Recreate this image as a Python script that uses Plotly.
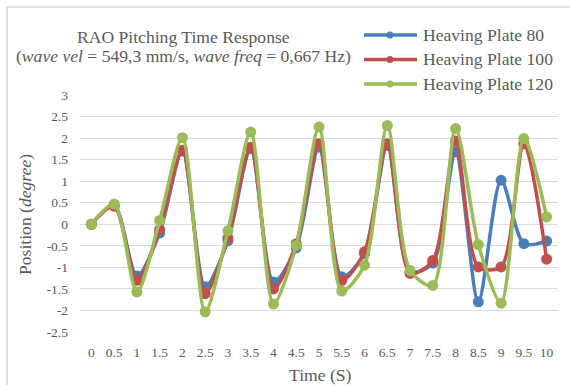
import plotly.graph_objects as go

# Time steps (s) and pitching response (degree) for each heaving plate size
time_labels = ["0", "0.5", "1", "1.5", "2", "2.5", "3", "3.5", "4", "4.5", "5",
               "5.5", "6", "6.5", "7", "7.5", "8", "8.5", "9", "9.5", "10"]
plate_80 = [0.0, 0.45, -1.2, -0.2, 1.70, -1.45, -0.38, 1.75, -1.34, -0.55, 1.79,
            -1.22, -0.68, 1.83, -1.10, -0.90, 1.68, -1.80, 1.02, -0.45, -0.39]
plate_100 = [0.0, 0.42, -1.3, -0.12, 1.72, -1.61, -0.32, 1.79, -1.50, -0.45, 1.87,
             -1.30, -0.64, 1.87, -1.14, -0.84, 1.93, -0.99, -0.99, 1.87, -0.81]
plate_120 = [0.0, 0.47, -1.57, 0.09, 2.01, -2.03, -0.15, 2.14, -1.85, -0.49, 2.26,
             -1.55, -0.95, 2.29, -1.07, -1.42, 2.22, -0.47, -1.83, 1.99, 0.17]

series_names = ["Heaving Plate 80", "Heaving Plate 100", "Heaving Plate 120"]
series_values = [plate_80, plate_100, plate_120]
series_colors = ["#4A7EBB", "#C0504D", "#9BBB59"]

y_ticks = [3, 2.5, 2, 1.5, 1, 0.5, 0, -0.5, -1, -1.5, -2, -2.5]

font_family = "Liberation Serif"
grey_text = "#595959"
text_size = 17.6
tick_size = 13.5

# Plot area in pixels (figure is 570 x 385)
W, H = 570, 385
L, R, T, B = 80, 12, 95, 53
PW, PH = W - L - R, H - T - B


def px_x(px):
    return (px - L) / PW


def px_y(py):
    return (H - B - py) / PH


def label(text, x, y, xanchor="center", angle=0):
    fig.add_annotation(xref="paper", yref="paper", x=px_x(x), y=px_y(y),
                       xanchor=xanchor, yanchor="middle", showarrow=False,
                       textangle=angle, text=text,
                       font=dict(size=text_size, color=grey_text, family=font_family))


fig = go.Figure()

for name, vals, color in zip(series_names, series_values, series_colors):
    fig.add_trace(go.Scatter(
        x=time_labels, y=vals, mode="lines+markers", name=name,
        line=dict(color=color, width=3.5, shape="spline", smoothing=0.8),
        marker=dict(color=color, size=11),
        showlegend=False,
    ))

fig.update_layout(
    width=W, height=H,
    margin=dict(l=L, r=R, t=T, b=B),
    paper_bgcolor="white", plot_bgcolor="white",
    font=dict(family=font_family, color=grey_text, size=tick_size),
    showlegend=False,
    xaxis=dict(
        type="category", range=[-0.5, 20.5], automargin=False,
        showgrid=False, zeroline=False, showline=False, ticks="",
        ticklabelstandoff=10,
        tickfont=dict(family=font_family, size=tick_size, color=grey_text),
    ),
    yaxis=dict(
        range=[-2.5, 3], tickvals=y_ticks, ticktext=[str(v) for v in y_ticks],
        automargin=False,
        showgrid=True, gridcolor="#D9D9D9", gridwidth=1.3,
        zeroline=False, showline=False, ticks="",
        ticklabelstandoff=11,
        tickfont=dict(family=font_family, size=tick_size, color=grey_text),
    ),
)

# Chart title (two lines)
label("RAO Pitching Time Response", 183, 37)
label("(<i>wave vel</i> = 549,3 mm/s, <i>wave freq</i> = 0,667 Hz)", 183, 56)

# Axis titles
label("Time (S)", 320, 375)
label("Position (<i>degree</i>)", 25, 215, angle=-90)

# Legend: line sample, small marker and label for each series
for i, (name, color) in enumerate(zip(series_names, series_colors)):
    cy = 35 + 24.5 * i
    fig.add_shape(type="line", xref="paper", yref="paper",
                  x0=px_x(364), x1=px_x(417), y0=px_y(cy), y1=px_y(cy),
                  line=dict(color=color, width=3.5))
    fig.add_shape(type="circle", xref="paper", yref="paper",
                  x0=px_x(386.5), x1=px_x(393.5), y0=px_y(cy + 3.5), y1=px_y(cy - 3.5),
                  line=dict(color=color, width=0), fillcolor=color)
    label(name, 421, cy, xanchor="left")

# Chart area border
fig.add_shape(
    type="rect", xref="paper", yref="paper",
    x0=px_x(7), x1=px_x(575), y0=px_y(390), y1=px_y(7),
    line=dict(color="#D9D9D9", width=1.5), fillcolor="rgba(0,0,0,0)", layer="below",
)

fig.write_html("out.html")
